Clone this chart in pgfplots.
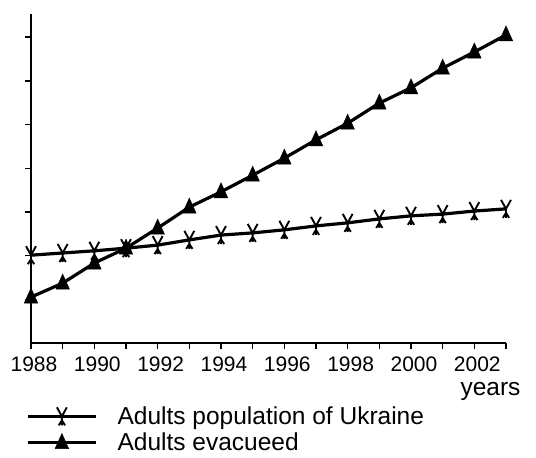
\documentclass[border=0pt]{standalone}
\usepackage{pgfplots}
\pgfplotsset{compat=1.18}
\usepackage{fontspec}
\setmainfont{Liberation Sans}
\pgfdeclareplotmark{tri}{%
  \pgfpathmoveto{\pgfpoint{0pt}{1.2\pgfplotmarksize}}%
  \pgfpathlineto{\pgfpoint{-0.9\pgfplotmarksize}{-0.8\pgfplotmarksize}}%
  \pgfpathlineto{\pgfpoint{0.9\pgfplotmarksize}{-0.8\pgfplotmarksize}}%
  \pgfpathclose
  \pgfusepathqfillstroke}
\pgfdeclareplotmark{ux}{%
  \pgfpathmoveto{\pgfpoint{-0.55\pgfplotmarksize}{\pgfplotmarksize}}%
  \pgfpathlineto{\pgfpoint{0pt}{0pt}}%
  \pgfpathlineto{\pgfpoint{0.55\pgfplotmarksize}{\pgfplotmarksize}}%
  \pgfpathmoveto{\pgfpoint{0pt}{0pt}}%
  \pgfpathlineto{\pgfpoint{0pt}{-\pgfplotmarksize}}%
  \pgfpathmoveto{\pgfpoint{-0.35\pgfplotmarksize}{-\pgfplotmarksize}}%
  \pgfpathlineto{\pgfpoint{0pt}{-0.45\pgfplotmarksize}}%
  \pgfpathlineto{\pgfpoint{0.35\pgfplotmarksize}{-\pgfplotmarksize}}%
  \pgfusepathqstroke}
\begin{document}
\begin{tikzpicture}
\useasboundingbox (0pt,0pt) rectangle (536pt,458pt);
\begin{axis}[
  at={(31pt,115pt)}, anchor=south west,
  width=475pt, height=329pt, scale only axis,
  xmin=1988, xmax=2003, ymin=0, ymax=7.53,
  axis lines*=left,
  axis line style={line width=1.8pt},
  tick align=outside,
  major tick length=6pt,
  every tick/.style={line width=1.4pt, black},
  xtick={1988,...,2003},
  xticklabels={1988,,1990,,1992,,1994,,1996,,1998,,2000,,2002,},
  ytick={1,...,7},
  yticklabels={},
  ticklabel style={font=\fontsize{21}{24}\selectfont},
  xticklabel style={yshift=-4pt, xshift=3pt},
  /pgf/number format/assume math mode=true,
  clip=false,
  xlabel={years},
  xlabel style={at={(axis description cs:1,0)}, anchor=base east, xshift=18pt, yshift=-53pt, font=\fontsize{24.5}{28}\selectfont},
  legend style={at={(axis description cs:0,0)}, anchor=north west, xshift=-8pt, yshift=-60.5pt,
    draw=none, fill=none, font=\fontsize{24.5}{28}\selectfont, row sep=5pt, column sep=19pt,
    nodes={inner sep=1pt}},
  legend cell align=left,
  legend image code/.code={\draw[black, line width=3.4pt] (0pt,0pt) -- (68pt,0pt); \draw[#1] plot[only marks] coordinates {(34pt,0pt)};},
]
\addplot[black, line width=3.2pt, mark=ux, mark size=9pt, mark options={line width=1.9pt, solid}]
coordinates {(1988,2.01)(1989,2.06)(1990,2.11)(1991,2.17)(1992,2.24)(1993,2.36)(1994,2.47)(1995,2.52)(1996,2.59)(1997,2.68)(1998,2.75)(1999,2.84)(2000,2.91)(2001,2.95)(2002,3.02)(2003,3.07)};
\addlegendentry{Adults population of Ukraine}
\addplot[black, line width=3.2pt, mark=tri, mark size=7.5pt, mark options={line width=0.5pt, fill=black, solid}]
coordinates {(1988,1.05)(1989,1.37)(1990,1.83)(1991,2.17)(1992,2.63)(1993,3.11)(1994,3.46)(1995,3.84)(1996,4.23)(1997,4.65)(1998,5.03)(1999,5.49)(2000,5.84)(2001,6.29)(2002,6.66)(2003,7.05)};
\addlegendentry{Adults evacueed}
\end{axis}
\end{tikzpicture}
\end{document}
